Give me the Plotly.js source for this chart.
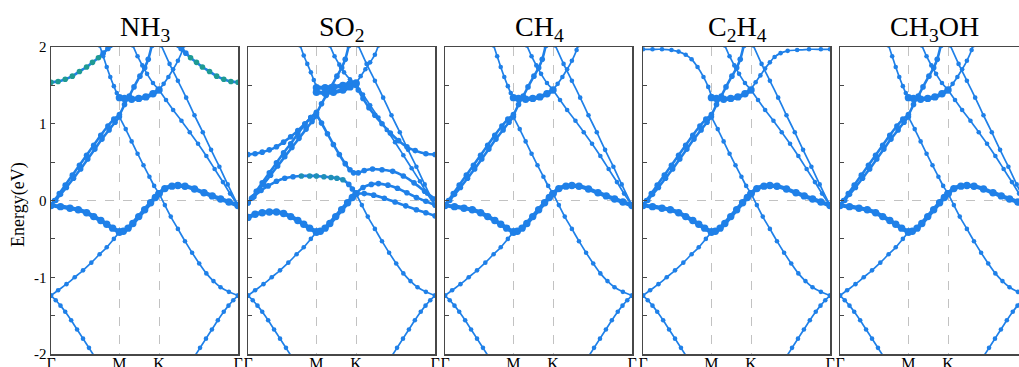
<!DOCTYPE html>
<html><head><meta charset="utf-8">
<script src="https://cdn.plot.ly/plotly-3.0.1.min.js"></script>
<style>html,body{margin:0;padding:0;background:#fff}#chart{width:1019px;height:367px}</style>
</head><body><div id="chart"></div>
<script>
// ---------- tick positions / labels ----------
const kTicks = [0, 0.577, 0.911, 1.577];
const kLabels = ['Γ', 'M', 'K', 'Γ'];
const yTicks = [-2, -1, 0, 1, 2];
const yLabels = ['-2', '-1', '0', '1', '2'];
const panelTitles = ['NH<sub>3</sub>', 'SO<sub>2</sub>', 'CH<sub>4</sub>', 'C<sub>2</sub>H<sub>4</sub>', 'CH<sub>3</sub>OH'];

// ---------- shared bands (k, E[eV]) ----------
const bandLowL = [[0,-1.24],[0.04,-1.30],[0.08,-1.37],[0.12,-1.45],[0.17,-1.56],[0.22,-1.68],[0.27,-1.80],[0.32,-1.92],[0.37,-2.04]];
const bandLowR = [[1.577,-1.24],[1.537,-1.30],[1.497,-1.37],[1.457,-1.45],[1.407,-1.56],[1.357,-1.68],[1.307,-1.80],[1.257,-1.92],[1.207,-2.04]];
const bandVbL = [[0,-1.24],[0.06,-1.17],[0.13,-1.09],[0.20,-1.00],[0.27,-0.91],[0.34,-0.81],[0.41,-0.70],[0.47,-0.61],[0.53,-0.50],[0.577,-0.41]];
const bandVfL = [[0,-0.065],[0.08,-0.08],[0.16,-0.10],[0.23,-0.12],[0.30,-0.16],[0.36,-0.21],[0.42,-0.26],[0.47,-0.31],[0.52,-0.36],[0.577,-0.41]];
const bandVfMK = [[0.577,-0.41],[0.61,-0.40],[0.65,-0.36],[0.69,-0.30],[0.74,-0.21],[0.79,-0.12],[0.84,-0.03],[0.88,0.04],[0.911,0.09]];
const bandHumpR = [[0.911,0.09],[0.96,0.155],[1.02,0.187],[1.07,0.195],[1.13,0.185],[1.21,0.15],[1.29,0.10],[1.36,0.06],[1.43,0.02],[1.50,-0.02],[1.577,-0.065]];
const bandDiag = [[0.577,1.09],[0.63,0.93],[0.68,0.77],[0.73,0.61],[0.78,0.46],[0.83,0.31],[0.87,0.19],[0.911,0.09],[0.96,-0.06],[1.01,-0.21],[1.07,-0.37],[1.13,-0.53],[1.19,-0.68],[1.25,-0.82],[1.31,-0.95],[1.37,-1.05],[1.43,-1.13],[1.50,-1.19],[1.577,-1.24]];
const bandRiseA = [[0,-0.065],[0.04,0.0],[0.08,0.08],[0.13,0.17],[0.19,0.29],[0.25,0.41],[0.31,0.54],[0.37,0.67],[0.43,0.80],[0.49,0.92],[0.54,1.02],[0.577,1.09]];
const bandRiseB = [[0,-0.065],[0.03,0.0],[0.07,0.09],[0.12,0.20],[0.18,0.33],[0.24,0.46],[0.30,0.59],[0.36,0.72],[0.42,0.85],[0.48,0.97],[0.53,1.06],[0.577,1.12],[0.62,1.25],[0.66,1.36],[0.70,1.48],[0.75,1.62],[0.79,1.73],[0.82,1.84],[0.85,2.02]];
const bandTopL = [[0.41,2.02],[0.44,1.88],[0.47,1.74],[0.50,1.61],[0.53,1.49],[0.555,1.40],[0.577,1.34]];
const bandFlatMK = [[0.577,1.34],[0.62,1.33],[0.68,1.32],[0.74,1.33],[0.80,1.35],[0.86,1.39],[0.911,1.44]];
const bandTopK = [[0.911,1.44],[0.95,1.52],[0.99,1.61],[1.03,1.71],[1.07,1.82],[1.11,1.96],[1.12,2.02]];
const bandCross = [[0.69,2.02],[0.73,1.88],[0.77,1.76],[0.81,1.65],[0.86,1.53],[0.911,1.44]];
const bandSlopeA = [[0.911,1.44],[0.97,1.31],[1.03,1.18],[1.10,1.04],[1.17,0.89],[1.24,0.74],[1.31,0.58],[1.38,0.41],[1.45,0.24],[1.51,0.09],[1.577,-0.065]];
const bandSlopeB = [[0.93,2.02],[1.00,1.78],[1.07,1.56],[1.14,1.34],[1.21,1.11],[1.28,0.89],[1.35,0.66],[1.42,0.44],[1.49,0.21],[1.577,-0.065]];

// ---------- NH3 extra ----------
const nh3TealL = [[0,1.54],[0.06,1.55],[0.12,1.58],[0.18,1.62],[0.24,1.68],[0.30,1.74],[0.35,1.80],[0.40,1.86],[0.44,1.92],[0.48,1.98],[0.50,2.02]];
const nh3TealR = [[1.577,1.54],[1.517,1.55],[1.457,1.58],[1.397,1.62],[1.337,1.68],[1.277,1.74],[1.227,1.80],[1.177,1.86],[1.137,1.92],[1.097,1.98],[1.077,2.02]];

// ---------- SO2 ----------
const so2DiagLow = [[0.911,0.09],[0.96,-0.06],[1.01,-0.21],[1.07,-0.37],[1.13,-0.53],[1.19,-0.68],[1.25,-0.82],[1.31,-0.95],[1.37,-1.05],[1.43,-1.13],[1.50,-1.19],[1.577,-1.24]];
const so2FatL = [[0,-0.22],[0.06,-0.18],[0.12,-0.16],[0.18,-0.15],[0.24,-0.15],[0.30,-0.17],[0.36,-0.21],[0.42,-0.26],[0.47,-0.31],[0.52,-0.36],[0.577,-0.41]];
const so2HumpL = [[0,-0.03],[0.05,0.05],[0.11,0.13],[0.17,0.19],[0.24,0.25],[0.31,0.29],[0.38,0.31],[0.45,0.32],[0.52,0.32],[0.577,0.32],[0.64,0.31],[0.70,0.30],[0.75,0.29],[0.80,0.27],[0.85,0.21],[0.88,0.15],[0.911,0.09]];
const so2RiseA = [[0,-0.03],[0.04,0.04],[0.08,0.12],[0.13,0.21],[0.19,0.33],[0.25,0.45],[0.31,0.57],[0.37,0.69],[0.43,0.81],[0.49,0.93],[0.54,1.03],[0.577,1.10]];
const so2RiseB = [[0,-0.03],[0.03,0.03],[0.07,0.12],[0.12,0.23],[0.18,0.36],[0.24,0.49],[0.30,0.62],[0.36,0.74],[0.42,0.87],[0.48,0.99],[0.53,1.08],[0.577,1.14],[0.62,1.26],[0.66,1.37],[0.70,1.48],[0.75,1.62],[0.79,1.73],[0.82,1.84],[0.85,2.02]];
const so2FlatL = [[0,0.60],[0.06,0.61],[0.12,0.63],[0.18,0.66],[0.24,0.70],[0.30,0.76],[0.36,0.83],[0.42,0.91],[0.48,1.00],[0.53,1.08],[0.577,1.15]];
const so2FlatR = [[1.577,0.60],[1.50,0.61],[1.41,0.65],[1.34,0.70],[1.27,0.78],[1.20,0.88],[1.13,1.00],[1.07,1.11],[1.02,1.21],[0.97,1.33],[0.93,1.44],[0.911,1.50]];
const so2Kink = [[0.577,1.12],[0.62,1.01],[0.67,0.87],[0.72,0.73],[0.77,0.60],[0.82,0.48],[0.86,0.40],[0.89,0.36],[0.93,0.36],[0.98,0.39],[1.05,0.41],[1.13,0.40],[1.22,0.38],[1.31,0.32],[1.40,0.23],[1.49,0.12],[1.577,0.02]];
const so2MidR = [[0.911,0.09],[0.97,0.17],[1.04,0.21],[1.10,0.22],[1.18,0.20],[1.26,0.16],[1.34,0.10],[1.42,0.04],[1.50,-0.01],[1.577,-0.06]];
const so2LowerR = [[0.911,0.09],[0.98,0.09],[1.06,0.07],[1.15,0.03],[1.24,-0.02],[1.33,-0.07],[1.42,-0.12],[1.50,-0.16],[1.577,-0.20]];
const so2TopL = [[0.44,2.02],[0.47,1.89],[0.50,1.78],[0.53,1.67],[0.555,1.57],[0.577,1.48]];
const so2FatMK1 = [[0.577,1.47],[0.65,1.47],[0.72,1.48],[0.80,1.50],[0.86,1.52],[0.911,1.53]];
const so2FatMK2 = [[0.577,1.41],[0.65,1.40],[0.72,1.41],[0.80,1.44],[0.86,1.48],[0.911,1.52]];
const so2TopK = [[0.911,1.53],[0.95,1.62],[0.99,1.71],[1.03,1.80],[1.07,1.90],[1.10,2.02]];
const so2Cross = [[0.69,2.02],[0.73,1.88],[0.77,1.77],[0.81,1.67],[0.86,1.58],[0.911,1.52]];
const so2SlopeA = [[0.911,1.52],[0.97,1.38],[1.03,1.24],[1.10,1.08],[1.17,0.92],[1.24,0.76],[1.31,0.59],[1.38,0.42],[1.45,0.25],[1.51,0.09],[1.577,-0.06]];

// ---------- C2H4 extra ----------
const c2h4TopL = [[0,1.97],[0.08,1.97],[0.16,1.97],[0.24,1.96],[0.30,1.94],[0.36,1.90],[0.41,1.84],[0.46,1.74],[0.51,1.61],[0.55,1.48],[0.577,1.36]];
const c2h4TopR = [[0.911,1.45],[0.95,1.54],[0.99,1.63],[1.03,1.72],[1.07,1.80],[1.11,1.87],[1.16,1.92],[1.22,1.95],[1.30,1.96],[1.40,1.97],[1.50,1.97],[1.577,1.97]];

// ---------- styles ----------
const BLUE = '#1f80e8', TEAL = '#1e9a94';
const THIN = {lw: 1.7, ms: 4.6}, MID = {lw: 2.6, ms: 5.6}, FAT = {lw: 4.2, ms: 7.4};

const basePanel = [
  [bandLowL, THIN], [bandLowR, THIN], [bandVbL, THIN], [bandDiag, THIN],
  [bandRiseA, MID], [bandRiseB, MID], [bandTopL, THIN], [bandTopK, THIN],
  [bandCross, THIN], [bandSlopeA, THIN], [bandSlopeB, THIN],
  [bandVfL, FAT], [bandVfMK, FAT], [bandHumpR, FAT], [bandFlatMK, FAT]
];
const panels = [
  basePanel.concat([[nh3TealL, MID, 'teal'], [nh3TealR, MID, 'teal']]),
  [
    [bandLowL, THIN], [bandLowR, THIN], [bandVbL, THIN], [so2DiagLow, THIN],
    [so2RiseA, MID], [so2RiseB, MID], [so2FlatL, MID], [so2FlatR, MID], [so2Kink, MID],
    [so2TopL, THIN], [so2TopK, THIN], [so2Cross, THIN], [so2SlopeA, THIN], [bandSlopeB, THIN],
    [so2MidR, MID], [so2LowerR, MID], [so2HumpL, MID, 'tealmid'],
    [so2FatL, FAT], [bandVfMK, FAT], [so2FatMK1, FAT], [so2FatMK2, FAT]
  ],
  basePanel,
  basePanel.filter(b => b[0] !== bandTopL && b[0] !== bandTopK).concat([[c2h4TopL, THIN], [c2h4TopR, THIN]]),
  basePanel
];

// ---------- geometry ----------
const W = 1019, H = 367;
const px = [[51,238],[248,435],[445,632],[643,830],[840,1019]];
const pxPerK = 187 / 1.577;
const yDom = [1 - 354 / H, 1 - 47 / H];

const traces = [];
panels.forEach((bands, i) => {
  const n = i + 1, sfx = n === 1 ? '' : String(n);
  bands.forEach(([pts, st, col]) => {
    let colors = BLUE;
    if (col === 'teal') colors = pts.map(p => p[1] < 1.88 ? TEAL : BLUE);
    if (col === 'tealmid') colors = pts.map(p => (p[0] > 0.42 && p[0] < 0.84) ? '#1f8fb8' : BLUE);
    traces.push({
      x: pts.map(p => p[0]), y: pts.map(p => p[1]),
      xaxis: 'x' + sfx, yaxis: 'y' + sfx,
      mode: 'lines+markers', type: 'scatter', showlegend: false, hoverinfo: 'skip',
      line: {shape: 'spline', smoothing: 0.8, width: st.lw, color: Array.isArray(colors) ? BLUE : colors},
      marker: {size: st.ms, color: colors}
    });
  });
});

const layout = {
  width: W, height: H, margin: {l: 0, r: 0, t: 0, b: 0},
  paper_bgcolor: '#fff', plot_bgcolor: '#fff', showlegend: false,
  font: {family: 'Liberation Serif, Times New Roman, serif', color: '#000'},
  shapes: [], annotations: []
};
px.forEach(([a, b], i) => {
  const n = i + 1, sfx = n === 1 ? '' : String(n);
  const kMax = (b - a) / pxPerK;
  layout['xaxis' + sfx] = {
    domain: [a / W, b / W], range: [0, kMax], anchor: 'y' + sfx,
    tickmode: 'array', tickvals: kTicks, ticktext: kLabels,
    showgrid: true, gridcolor: '#c2c2c2', griddash: 'dash', gridwidth: 1,
    showline: true, mirror: true, linecolor: '#474747', linewidth: 1.5,
    ticks: '', ticklabelstandoff: -6, zeroline: false, tickfont: {size: 16, color: '#000'}, fixedrange: true
  };
  layout['yaxis' + sfx] = {
    domain: yDom, range: [-2, 2], anchor: 'x' + sfx,
    tickmode: 'array', tickvals: yTicks, ticktext: yLabels, showticklabels: n === 1,
    ticks: 'inside', ticklen: 4, tickwidth: 1, tickcolor: '#474747',
    minor: {tickmode: 'linear', tick0: -2, dtick: 0.5, ticks: 'inside', ticklen: 4, tickwidth: 1, tickcolor: '#474747', showgrid: false},
    showline: true, mirror: n < 5, linecolor: '#474747', linewidth: 1.5,
    showgrid: false, zeroline: false, tickfont: {size: 15, color: '#000'}, fixedrange: true
  };
  layout.shapes.push({type: 'line', xref: 'x' + sfx + ' domain', yref: 'y' + sfx, x0: 0, x1: 1, y0: 0, y1: 0,
    line: {color: '#c2c2c2', width: 1, dash: 'dash'}, layer: 'below'});
  layout.annotations.push({text: panelTitles[i], xref: 'paper', yref: 'paper',
    x: (a + 94) / W, y: 1 - 28 / H, xanchor: 'center', yanchor: 'middle', showarrow: false,
    font: {size: 28, color: '#000'}});
});
layout.annotations.push({text: 'Energy(eV)', xref: 'paper', yref: 'paper', x: 18 / W, y: 1 - 205 / H,
  xanchor: 'center', yanchor: 'middle', textangle: -90, showarrow: false, font: {size: 18, color: '#000'}});

Plotly.newPlot('chart', traces, layout, {staticPlot: true, displayModeBar: false});
</script></body></html>
